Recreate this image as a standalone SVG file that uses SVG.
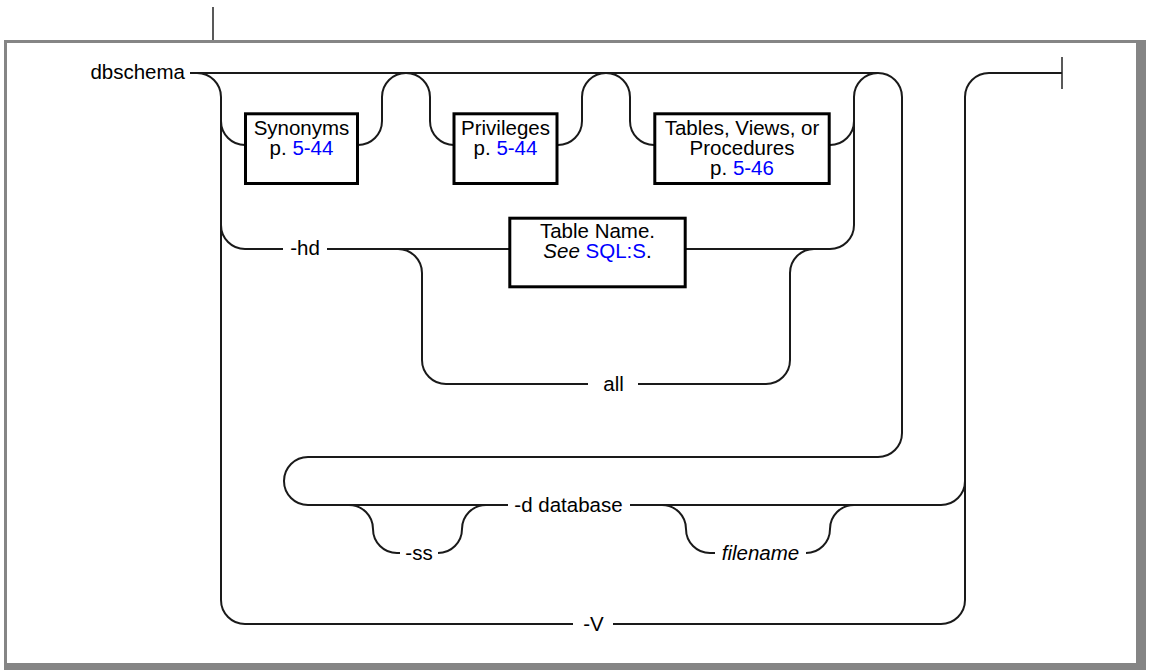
<svg xmlns="http://www.w3.org/2000/svg" width="1150" height="670" viewBox="0 0 1150 670">
  <style>
    text { font-family: "Liberation Sans", Arial, Helvetica, sans-serif; font-size: 20.5px; fill: #000; }
    .mid { text-anchor: middle; }
    .link { fill: #0000ff; }
    .it { font-style: italic; }
    .box { fill: #fff; stroke: #000; stroke-width: 3; }
    .wire { fill: none; stroke: #1a1a1a; stroke-width: 2; }
    .tick { fill: none; stroke: #222; stroke-width: 1.5; }
    .frame { fill: #858585; }
  </style>

  <!-- page frame with drop-shadow edges -->
  <g id="frame">
    <rect class="frame" x="4" y="40" width="1142" height="3"/>
    <rect class="frame" x="4" y="40" width="3" height="630"/>
    <rect class="frame" x="1136" y="40" width="10" height="630"/>
    <rect class="frame" x="4" y="663" width="1142" height="7"/>
    <line class="tick" x1="213" y1="7" x2="213" y2="40"/>
  </g>

  <!-- railroad tracks -->
  <g id="connectors">
    <!-- main line and first branch down -->
    <path class="wire" d="M190,73 H878"/>
    <path class="wire" d="M197,73 A24,24 0 0 1 221,97 V600 A24,24 0 0 0 245,624 H573"/>
    <path class="wire" d="M613,624 H941 A24,24 0 0 0 965,600 V97 A24,24 0 0 1 989,73 H1062"/>
    <line class="tick" x1="1062" y1="57" x2="1062" y2="89"/>

    <!-- optional list: Synonyms / Privileges / Tables -->
    <path class="wire" d="M221,121 A24,24 0 0 0 245,145"/>
    <path class="wire" d="M358,145 A24,24 0 0 0 382,121 V97 A24,24 0 0 1 430,97 V121 A24,24 0 0 0 454,145"/>
    <path class="wire" d="M558,145 A24,24 0 0 0 582,121 V97 A24,24 0 0 1 630,97 V121 A24,24 0 0 0 654,145"/>
    <path class="wire" d="M830,145 A24,24 0 0 0 854,121"/>
    <path class="wire" d="M854,225 V97 A24,24 0 0 1 902,97 V433 A24,24 0 0 1 878,457 H308 A24,24 0 0 0 308,505 H508"/>

    <!-- -hd branch -->
    <path class="wire" d="M221,225 A24,24 0 0 0 245,249 H283"/>
    <path class="wire" d="M327,249 H509"/>
    <path class="wire" d="M685,249 H830 A24,24 0 0 0 854,225"/>
    <path class="wire" d="M398,249 A24,24 0 0 1 422,273 V360 A24,24 0 0 0 446,384 H588"/>
    <path class="wire" d="M638,384 H766 A24,24 0 0 0 790,360 V273 A24,24 0 0 1 814,249"/>

    <!-- -d database line with -ss and filename options -->
    <path class="wire" d="M349,505 A24,24 0 0 1 373,529 A24,24 0 0 0 397,553 H400"/>
    <path class="wire" d="M438,553 A24,24 0 0 0 462,529 A24,24 0 0 1 486,505"/>
    <path class="wire" d="M630,505 H941 A24,24 0 0 0 965,481"/>
    <path class="wire" d="M662,505 A24,24 0 0 1 686,529 A24,24 0 0 0 710,553 H715"/>
    <path class="wire" d="M806,553 A24,24 0 0 0 830,529 A24,24 0 0 1 854,505"/>
  </g>

  <g id="start">
    <text x="185" y="79" text-anchor="end">dbschema</text>
  </g>

  <g id="synonyms">
    <rect class="box" x="245.5" y="113.8" width="112" height="69.7"/>
    <text class="mid" x="301.5" y="135">Synonyms</text>
    <text class="mid" x="301.5" y="155">p. <tspan class="link">5-44</tspan></text>
  </g>

  <g id="privileges">
    <rect class="box" x="454" y="113.8" width="103" height="69.7"/>
    <text class="mid" x="505.5" y="135">Privileges</text>
    <text class="mid" x="505.5" y="155">p. <tspan class="link">5-44</tspan></text>
  </g>

  <g id="tables">
    <rect class="box" x="654.8" y="113.8" width="174.4" height="69.7"/>
    <text class="mid" x="742" y="135">Tables, Views, or</text>
    <text class="mid" x="742" y="155">Procedures</text>
    <text class="mid" x="742" y="175">p. <tspan class="link">5-46</tspan></text>
  </g>

  <g id="table-name">
    <rect class="box" x="509.8" y="218.2" width="175.4" height="68.6"/>
    <text class="mid" x="597.5" y="238">Table Name.</text>
    <text class="mid" x="597.5" y="258"><tspan class="it">See</tspan> <tspan class="link">SQL:S</tspan>.</text>
  </g>

  <g id="opt-hd">
    <text class="mid" x="305" y="255">-hd</text>
  </g>

  <g id="opt-all">
    <text class="mid" x="613.5" y="391">all</text>
  </g>

  <g id="opt-d">
    <text class="mid" x="568.5" y="512">-d database</text>
  </g>

  <g id="opt-ss">
    <text class="mid" x="419" y="560">-ss</text>
  </g>

  <g id="opt-filename">
    <text class="mid it" x="760.5" y="560">filename</text>
  </g>

  <g id="opt-v">
    <text class="mid" x="593.5" y="631">-V</text>
  </g>
</svg>
